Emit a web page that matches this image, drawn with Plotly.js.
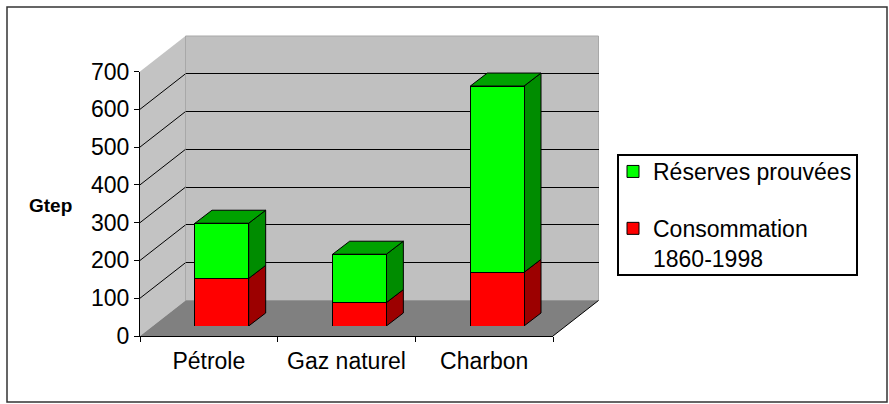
<!DOCTYPE html>
<html>
<head>
<meta charset="utf-8">
<script src="https://cdn.plot.ly/plotly-3.0.1.min.js"></script>
<style>
  html, body { margin: 0; padding: 0; background: #ffffff; }
  #chart { width: 889px; height: 404px; }
</style>
</head>
<body>
<div id="chart"></div>
<script>
// ---- data ----
const categories = ['Pétrole', 'Gaz naturel', 'Charbon'];
const consommation = [126, 62, 142];   // Consommation 1860-1998 (Gtep)
const reserves = [146, 128, 493];      // Réserves prouvées (Gtep)
const yTicks = [0, 100, 200, 300, 400, 500, 600, 700];
const seriesNames = ['Consommation<br>1860-1998', 'Réserves prouvées'];

// ---- geometry (pixels) ----
const W = 889, H = 404;
const fx = px => px / W;
const fy = py => 1 - py / H;
const front = { x0: 140, x1: 553, yb: 336, yt: 71.5 };
const depth = { dx: 45.5, dy: 35.5 };            // front -> back wall
const barShift = { dx: 13, dy: 10 };             // front -> bar plane
const back = { x0: front.x0 + depth.dx, x1: front.x1 + depth.dx, yb: front.yb - depth.dy, yt: front.yt - depth.dy };
const barP = { x0: front.x0 + barShift.dx, x1: front.x1 + barShift.dx, yb: front.yb - barShift.dy, yt: front.yt - barShift.dy };
const yMax = yTicks[yTicks.length - 1];
const pxPerUnit = (front.yb - front.yt) / yMax;
const barWidth = 0.39;
const catPx = (front.x1 - front.x0) / categories.length;
const hw = barWidth * catPx / 2;
const bdx = 17, bdyPx = 13;
const bdy = bdyPx / pxPerUnit;

const P = (px, py) => fx(px) + ',' + fy(py);

const colors = {
  green: '#00ff00', greenSide: '#008c00', greenTop: '#00a200',
  red: '#ff0000', redSide: '#9c0000'
};

// ---- traces ----
const traces = [
  { // back plane (gridlines holder)
    type: 'scatter', x: [0], y: [0], xaxis: 'x', yaxis: 'y', mode: 'markers',
    marker: { opacity: 0 }, showlegend: false, hoverinfo: 'skip'
  },
  { // front plane (axis labels)
    type: 'scatter', x: categories, y: categories.map(() => 0), xaxis: 'x2', yaxis: 'y2',
    mode: 'markers', marker: { opacity: 0 }, showlegend: false, hoverinfo: 'skip'
  },
  {
    type: 'bar', name: seriesNames[0], x: categories, y: consommation, xaxis: 'x3', yaxis: 'y3',
    width: barWidth, legendgroup: 'b', legendrank: 2,
    marker: { color: colors.red, line: { color: '#000000', width: 1 } }
  },
  {
    type: 'bar', name: seriesNames[1], x: categories, y: reserves, xaxis: 'x3', yaxis: 'y3',
    width: barWidth, legendgroup: 'a', legendrank: 1,
    marker: { color: colors.green, line: { color: '#000000', width: 1 } }
  }
];

// ---- shapes: walls / floor / left-wall grid ----
const shapes = [];
// left wall
shapes.push({ type: 'path', xref: 'paper', yref: 'paper', layer: 'below',
  path: 'M' + P(front.x0, front.yb) + ' L' + P(front.x0, front.yt) + ' L' + P(back.x0, back.yt) + ' L' + P(back.x0, back.yb) + ' Z',
  fillcolor: '#c3c3c3', line: { width: 0 } });
// back wall
shapes.push({ type: 'rect', xref: 'paper', yref: 'paper', layer: 'below',
  x0: fx(back.x0), x1: fx(back.x1), y0: fy(back.yb), y1: fy(back.yt),
  fillcolor: '#c0c0c0', line: { color: '#a8a8a8', width: 1 } });
// floor
shapes.push({ type: 'path', xref: 'paper', yref: 'paper', layer: 'below',
  path: 'M' + P(front.x0, front.yb) + ' L' + P(front.x1, front.yb) + ' L' + P(back.x1, back.yb) + ' L' + P(back.x0, back.yb) + ' Z',
  fillcolor: '#808080', line: { width: 0 } });
// floor right edge
shapes.push({ type: 'line', xref: 'paper', yref: 'paper', layer: 'below',
  x0: fx(front.x1), y0: fy(front.yb), x1: fx(back.x1), y1: fy(back.yb),
  line: { color: '#000000', width: 1 } });
// left-wall diagonal gridlines
yTicks.slice(1, -1).forEach(v => {
  const yf = front.yb - v * pxPerUnit, yb = back.yb - v * pxPerUnit;
  shapes.push({ type: 'line', xref: 'paper', yref: 'paper', layer: 'below',
    x0: fx(front.x0), y0: fy(yf), x1: fx(back.x0), y1: fy(yb),
    line: { color: '#000000', width: 1 } });
});
// legend frame
shapes.push({ type: 'rect', xref: 'paper', yref: 'paper', layer: 'below',
  x0: fx(618), x1: fx(857), y0: fy(275), y1: fy(155),
  fillcolor: '#ffffff', line: { color: '#000000', width: 2 } });

// ---- shapes: bar depth faces (from data) ----
categories.forEach((c, i) => {
  const r = consommation[i], t = consommation[i] + reserves[i];
  const common = { type: 'path', xref: 'x3', yref: 'y3', xsizemode: 'pixel', xanchor: i,
    layer: 'below', line: { color: '#000000', width: 1 } };
  shapes.push(Object.assign({}, common, { fillcolor: colors.redSide,
    path: `M${hw},0 L${hw + bdx},${bdy} L${hw + bdx},${r + bdy} L${hw},${r} Z` }));
  shapes.push(Object.assign({}, common, { fillcolor: colors.greenSide,
    path: `M${hw},${r} L${hw + bdx},${r + bdy} L${hw + bdx},${t + bdy} L${hw},${t} Z` }));
  shapes.push(Object.assign({}, common, { fillcolor: colors.greenTop,
    path: `M${-hw},${t} L${hw},${t} L${hw + bdx},${t + bdy} L${-hw + bdx},${t + bdy} Z` }));
});

// outer frame
shapes.push({ type: 'rect', xref: 'paper', yref: 'paper', layer: 'above',
  x0: fx(7), x1: fx(887), y0: fy(402), y1: fy(7),
  line: { color: '#333333', width: 1.5 }, fillcolor: 'rgba(0,0,0,0)' });

const fontFam = 'Liberation Sans, Arial, sans-serif';

const layout = {
  width: W, height: H,
  margin: { l: 0, r: 0, t: 0, b: 0 },
  paper_bgcolor: '#ffffff', plot_bgcolor: 'rgba(0,0,0,0)',
  font: { family: fontFam, color: '#000000', size: 23 },
  barmode: 'stack',
  showlegend: true,
  legend: {
    x: fx(613), y: fy(150), xanchor: 'left', yanchor: 'top',
    borderwidth: 0, bgcolor: 'rgba(0,0,0,0)',
    font: { family: fontFam, size: 23, color: '#000000' },
    traceorder: 'grouped', tracegroupgap: 24, valign: 'top'
  },
  // back plane
  xaxis: { domain: [fx(back.x0), fx(back.x1)], anchor: 'y', visible: false, range: [-0.5, 0.5], fixedrange: true },
  yaxis: { domain: [fy(back.yb), fy(back.yt)], anchor: 'x', range: [0, yMax],
    tickvals: yTicks.slice(1, -1), showgrid: true, gridcolor: '#000000', gridwidth: 1,
    showticklabels: false, ticks: '', showline: false, zeroline: false, fixedrange: true },
  // front plane
  xaxis2: { domain: [fx(front.x0), fx(front.x1)], anchor: 'y2', type: 'category',
    range: [-0.5, categories.length - 0.5], showline: true, linecolor: '#000000', linewidth: 1,
    ticks: 'outside', tickson: 'boundaries', ticklen: 5, tickcolor: '#000000', tickwidth: 1,
    showgrid: false, zeroline: false, tickfont: { size: 23 }, ticklabelstandoff: 4, fixedrange: true },
  yaxis2: { domain: [fy(front.yb), fy(front.yt)], anchor: 'x2', range: [0, yMax],
    tickvals: yTicks, showline: true, linecolor: '#000000', linewidth: 1,
    ticks: 'outside', ticklen: 5, tickcolor: '#000000', tickwidth: 1,
    showgrid: false, zeroline: false, tickfont: { size: 23 }, fixedrange: true },
  // bar plane
  xaxis3: { domain: [fx(barP.x0), fx(barP.x1)], anchor: 'y3', type: 'category',
    range: [-0.5, categories.length - 0.5], visible: false, fixedrange: true },
  yaxis3: { domain: [fy(barP.yb), fy(barP.yt)], anchor: 'x3', range: [0, yMax], visible: false, fixedrange: true },
  shapes: shapes,
  annotations: [{
    xref: 'paper', yref: 'paper', x: fx(50), y: fy(205), xanchor: 'center', yanchor: 'middle',
    text: '<b>Gtep</b>', showarrow: false, font: { family: fontFam, size: 19, color: '#000000' }
  }]
};

Plotly.newPlot('chart', traces, layout, { displayModeBar: false, staticPlot: true });
</script>
</body>
</html>
